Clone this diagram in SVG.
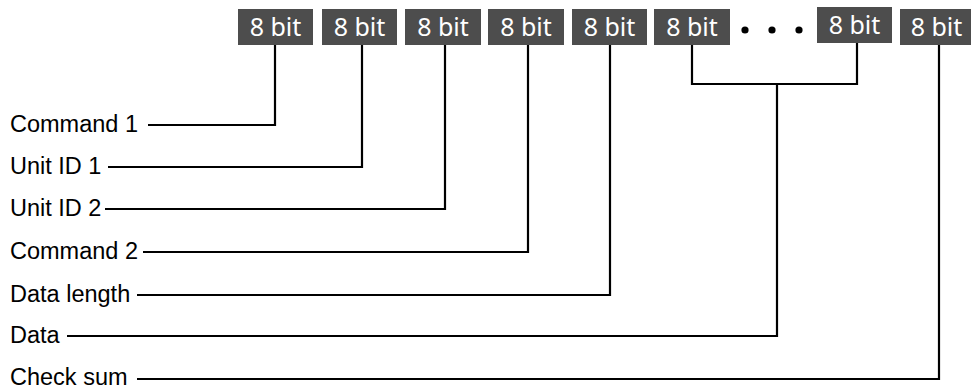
<svg xmlns="http://www.w3.org/2000/svg" width="971" height="390" viewBox="0 0 971 390">
<style>
.box{fill:#4d4d4d}
.bt{font-family:"Noto Sans","Open Sans",sans-serif;font-size:25px;fill:#fff;text-anchor:middle}
.lb{font-family:"Liberation Sans",Arial,sans-serif;font-size:23.5px;fill:#000}
.ln{fill:none;stroke:#000;stroke-width:2.2}
</style>
<rect width="971" height="390" fill="#fff"/>
<g id="b1"><rect class="box" x="238" y="9" width="75" height="36"/><text class="bt" x="275.5" y="36">8 bit</text></g>
<g id="b2"><rect class="box" x="322" y="9" width="75" height="36"/><text class="bt" x="359.5" y="36">8 bit</text></g>
<g id="b3"><rect class="box" x="405" y="9" width="76" height="36"/><text class="bt" x="443" y="36">8 bit</text></g>
<g id="b4"><rect class="box" x="488" y="9" width="76" height="36"/><text class="bt" x="526" y="36">8 bit</text></g>
<g id="b5"><rect class="box" x="572" y="9" width="75" height="36"/><text class="bt" x="609.5" y="36">8 bit</text></g>
<g id="b6"><rect class="box" x="654" y="9" width="76" height="36"/><text class="bt" x="692" y="36">8 bit</text></g>
<g id="dots"><circle cx="745" cy="30" r="3.6"/><circle cx="772" cy="30" r="3.6"/><circle cx="799" cy="30" r="3.6"/></g>
<g id="b7"><rect class="box" x="817" y="7" width="75" height="36"/><text class="bt" x="854.5" y="34">8 bit</text></g>
<g id="b8"><rect class="box" x="900" y="9" width="71" height="36"/><text class="bt" x="936.5" y="36">8 bit</text></g>
<g id="labels">
<text class="lb" x="10" y="132">Command 1</text>
<text class="lb" x="10" y="174">Unit ID 1</text>
<text class="lb" x="10" y="216">Unit ID 2</text>
<text class="lb" x="10" y="259">Command 2</text>
<text class="lb" x="10" y="302">Data length</text>
<text class="lb" x="10" y="343">Data</text>
<text class="lb" x="10" y="385">Check sum</text>
</g>
<g id="connectors">
<polyline class="ln" points="148,125 275,125 275,45"/>
<polyline class="ln" points="108,167 362,167 362,45"/>
<polyline class="ln" points="105,209 445,209 445,45"/>
<polyline class="ln" points="143,252 528,252 528,45"/>
<polyline class="ln" points="137,295 610,295 610,45"/>
<polyline class="ln" points="692,45 692,84 857,84 857,43"/>
<polyline class="ln" points="67,336 777,336 777,84"/>
<polyline class="ln" points="137,379 939,379 939,45"/>
</g>
</svg>
